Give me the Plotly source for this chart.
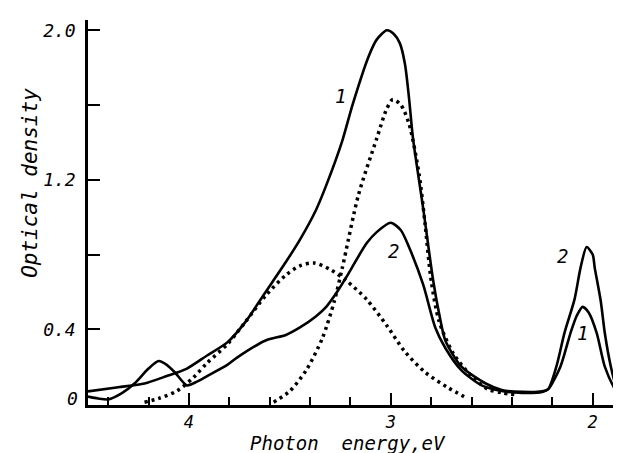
import plotly.graph_objects as go

# Curve 1 (solid)
c1_x = [4.50, 4.35, 4.22, 4.11, 4.01, 3.91, 3.81, 3.72, 3.62, 3.52, 3.45, 3.37, 3.32, 3.24, 3.19, 3.11, 3.07, 3.02,
        2.985, 2.955, 2.93, 2.91, 2.89, 2.84, 2.79, 2.76, 2.73, 2.65, 2.53, 2.45, 2.35, 2.25, 2.22, 2.16, 2.11, 2.08, 2.05,
        2.02, 1.98, 1.94, 1.89, 1.85]
c1_y = [0.068, 0.09, 0.11, 0.15, 0.19, 0.26, 0.33, 0.44, 0.60, 0.76, 0.88, 1.04, 1.17, 1.41, 1.60, 1.86, 1.95, 2.00,
        1.98, 1.93, 1.82, 1.64, 1.42, 1.05, 0.66, 0.48, 0.34, 0.20, 0.11, 0.075, 0.065, 0.068, 0.08, 0.20, 0.38, 0.47, 0.52,
        0.49, 0.38, 0.20, 0.08, 0.02]

# Curve 2 (solid)
c2_x = [4.50, 4.45, 4.40, 4.33, 4.27, 4.20, 4.15, 4.11, 4.07, 4.01, 3.96, 3.91, 3.81, 3.76, 3.62, 3.52, 3.45, 3.37,
        3.32, 3.26, 3.22, 3.12, 3.07, 3.00, 2.95, 2.91, 2.84, 2.78, 2.73, 2.65, 2.55, 2.45, 2.35, 2.25, 2.22, 2.18,
        2.14, 2.09, 2.06, 2.03, 2.00, 1.99, 1.96, 1.94, 1.91, 1.88, 1.85]
c2_y = [0.04, 0.03, 0.025, 0.06, 0.11, 0.19, 0.23, 0.21, 0.17, 0.10, 0.12, 0.15, 0.21, 0.25, 0.34, 0.37, 0.41, 0.47,
        0.52, 0.61, 0.68, 0.86, 0.92, 0.97, 0.93, 0.84, 0.64, 0.41, 0.30, 0.18, 0.10, 0.07, 0.06, 0.065, 0.08, 0.20,
        0.38, 0.56, 0.73, 0.84, 0.80, 0.73, 0.55, 0.38, 0.20, 0.08, 0.02]

# Dotted band A (broad)
da_x = [4.22, 4.15, 4.06, 3.98, 3.91, 3.81, 3.72, 3.62, 3.52, 3.45, 3.38, 3.30, 3.22, 3.12, 3.02, 2.93, 2.83, 2.72, 2.62]
da_y = [0.01, 0.03, 0.07, 0.14, 0.22, 0.32, 0.44, 0.58, 0.69, 0.74, 0.755, 0.72, 0.66, 0.56, 0.42, 0.28, 0.17, 0.09, 0.03]

# Dotted band B (narrow)
db_x = [3.58, 3.50, 3.42, 3.34, 3.28, 3.24, 3.16, 3.07, 3.02, 2.99, 2.95, 2.91, 2.86, 2.83, 2.80, 2.76, 2.69, 2.60,
        2.52, 2.45, 2.38]
db_y = [0.01, 0.07, 0.18, 0.35, 0.55, 0.73, 1.12, 1.42, 1.58, 1.63, 1.60, 1.50, 1.23, 0.96, 0.66, 0.44, 0.27, 0.15,
        0.08, 0.06, 0.05]

y_ticks = [0, 0.4, 0.8, 1.2, 1.6, 2.0]
y_text = ["", "0.4", "", "1.2", "", "2.0"]
zero_label = "0"
x_ticks = [4, 3, 2]
x_text = ["4", "3", "2"]
x_title = "Photon\u00a0 energy,eV"
y_title = "Optical density"

labels = [(3.25, 1.65, "1"), (2.985, 0.82, "2"), (2.15, 0.79, "2"), (2.05, 0.38, "1")]

FONT = "DejaVu Sans Mono"

fig = go.Figure()
fig.add_trace(go.Scatter(x=c1_x, y=c1_y, mode="lines", line=dict(color="black", width=2.6, shape="spline", smoothing=0.7)))
fig.add_trace(go.Scatter(x=c2_x, y=c2_y, mode="lines", line=dict(color="black", width=2.6, shape="spline", smoothing=0.7)))
fig.add_trace(go.Scatter(x=da_x, y=da_y, mode="lines", line=dict(color="black", width=3.5, dash="3px,4px", shape="spline", smoothing=0.8)))
fig.add_trace(go.Scatter(x=db_x, y=db_y, mode="lines", line=dict(color="black", width=3.5, dash="3px,4px", shape="spline", smoothing=0.8)))

for lx, ly, t in labels:
    fig.add_annotation(x=lx, y=ly, text=t, showarrow=False,
                       font=dict(family=FONT, size=19, color="black", style="italic"))

# "0" tick label, slightly raised as in the reference
fig.add_annotation(x=0, xref="paper", xshift=-8, y=0, yref="y", yshift=6, xanchor="right", yanchor="middle",
                   text=zero_label, showarrow=False,
                   font=dict(family=FONT, size=18, color="black", style="italic"))
# axis titles
fig.add_annotation(x=0.483, xref="paper", y=0, yref="paper", yshift=-50, xanchor="center", yanchor="bottom",
                   text=x_title, showarrow=False, borderpad=0,
                   font=dict(family=FONT, size=19, color="black", style="italic"))
fig.add_annotation(x=0, xref="paper", xshift=-58, y=0.577, yref="paper", xanchor="center", yanchor="middle",
                   text=y_title, textangle=-90, showarrow=False,
                   font=dict(family=FONT, size=21, color="black", style="italic"))

fig.update_layout(
    width=621, height=453,
    margin=dict(l=80, r=3, t=12, b=56),
    paper_bgcolor="white", plot_bgcolor="white",
    showlegend=False,
    font=dict(family=FONT, color="black"),
)
fig.update_xaxes(
    range=[4.5, 1.835], showgrid=False, zeroline=False,
    showline=True, linecolor="black", linewidth=2.5,
    tickmode="array", tickvals=x_ticks, ticktext=x_text,
    ticks="inside", ticklen=12, tickwidth=2, tickcolor="black",
    tickfont=dict(family=FONT, size=17, style="italic"), ticklabelstandoff=0,
    minor=dict(ticks="inside", ticklen=8, tickwidth=1.5, tickcolor="black", dtick=0.2, tick0=0),
)
fig.update_yaxes(
    range=[-0.005, 2.055], showgrid=False, zeroline=False,
    showline=True, linecolor="black", linewidth=2.5,
    tickmode="array", tickvals=y_ticks, ticktext=y_text,
    ticks="inside", ticklen=12, tickwidth=2, tickcolor="black",
    tickfont=dict(family=FONT, size=18, style="italic"), ticklabelstandoff=6,
)

fig.write_html("out.html")
